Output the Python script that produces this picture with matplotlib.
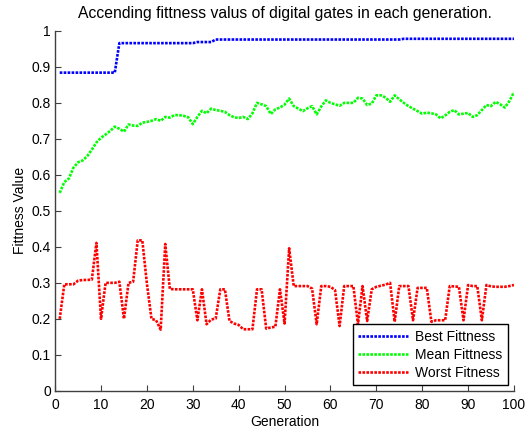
import matplotlib
matplotlib.use("Agg")
import matplotlib.pyplot as plt

plt.rcParams['font.family'] = ['Liberation Sans', 'DejaVu Sans']

generaciones = list(range(1, 101))

mejor = ([0.884] * 13 + [0.966] * 17 + [0.969] * 4 + [0.976] * 41 + [0.978] * 25)

media = [0.550, 0.580, 0.590, 0.620, 0.635, 0.640, 0.652, 0.670, 0.690, 0.703,
         0.712, 0.722, 0.734, 0.728, 0.720, 0.740, 0.737, 0.736, 0.745, 0.747,
         0.750, 0.755, 0.750, 0.761, 0.759, 0.766, 0.766, 0.764, 0.760, 0.741,
         0.761, 0.778, 0.771, 0.784, 0.780, 0.778, 0.775, 0.766, 0.760, 0.758,
         0.761, 0.755, 0.771, 0.800, 0.796, 0.791, 0.769, 0.782, 0.787, 0.795,
         0.812, 0.791, 0.784, 0.777, 0.785, 0.791, 0.768, 0.790, 0.807, 0.800,
         0.796, 0.792, 0.800, 0.800, 0.800, 0.814, 0.812, 0.794, 0.798, 0.821,
         0.821, 0.815, 0.803, 0.821, 0.810, 0.800, 0.791, 0.784, 0.777, 0.770,
         0.773, 0.771, 0.768, 0.757, 0.765, 0.775, 0.780, 0.768, 0.770, 0.772,
         0.761, 0.766, 0.780, 0.794, 0.791, 0.803, 0.796, 0.787, 0.805, 0.830]

peor = [0.200, 0.296, 0.296, 0.296, 0.306, 0.308, 0.308, 0.309, 0.411, 0.200,
        0.300, 0.300, 0.300, 0.303, 0.200, 0.300, 0.303, 0.418, 0.418, 0.298,
        0.200, 0.196, 0.170, 0.408, 0.283, 0.282, 0.282, 0.282, 0.282, 0.282,
        0.196, 0.282, 0.185, 0.198, 0.201, 0.282, 0.282, 0.194, 0.187, 0.183,
        0.171, 0.171, 0.171, 0.282, 0.282, 0.173, 0.176, 0.178, 0.282, 0.187,
        0.396, 0.291, 0.291, 0.291, 0.291, 0.284, 0.185, 0.291, 0.291, 0.289,
        0.280, 0.180, 0.291, 0.291, 0.291, 0.185, 0.291, 0.194, 0.282, 0.289,
        0.292, 0.295, 0.300, 0.192, 0.291, 0.291, 0.291, 0.196, 0.286, 0.286,
        0.286, 0.192, 0.196, 0.196, 0.196, 0.291, 0.290, 0.289, 0.196, 0.294,
        0.291, 0.291, 0.196, 0.294, 0.290, 0.289, 0.289, 0.289, 0.291, 0.294]

fig = plt.figure(figsize=(5.25, 4.29), dpi=100)
ax = fig.add_axes([0.105, 0.089, 0.874, 0.839])

estilo = dict(linestyle=(0, (1, 0.5)), linewidth=1.9)
ax.plot(generaciones, mejor, color='#0000ff', label='Best Fittness', **estilo)
ax.plot(generaciones, media, color='#00ff00', label='Mean Fittness', **estilo)
ax.plot(generaciones, peor, color='#ff0000', label='Worst Fitness', **estilo)

ax.set_xlim(0, 100)
ax.set_ylim(0, 1)
ax.set_xticks(range(0, 101, 10))
ax.set_yticks([i / 10 for i in range(11)])
ax.set_yticklabels(['0', '0.1', '0.2', '0.3', '0.4', '0.5', '0.6', '0.7', '0.8', '0.9', '1'])

for lado in ['top', 'right']:
    ax.spines[lado].set_visible(False)
for lado in ['left', 'bottom']:
    ax.spines[lado].set_color('#404040')
    ax.spines[lado].set_linewidth(1.0)
ax.tick_params(direction='in', length=4, width=0.8, color='#404040', labelsize=10)
ax.tick_params(axis='x', pad=5)
ax.tick_params(axis='y', pad=3)

ax.set_xlabel("Generation", fontsize=10, labelpad=2)
ax.set_ylabel("Fittness Value", fontsize=10, labelpad=3)
ax.set_title("Accending fittness valus of digital gates in each generation.", fontsize=11.3, pad=9)

leg = ax.legend(loc='lower right', bbox_to_anchor=(0.987, 0.015), borderaxespad=0,
                fontsize=10, fancybox=False, framealpha=1, edgecolor='black',
                handlelength=3.6, handletextpad=0.5, labelspacing=0.3, borderpad=0.4)
leg.get_frame().set_linewidth(1.0)

fig.savefig("out.png", dpi=100)
